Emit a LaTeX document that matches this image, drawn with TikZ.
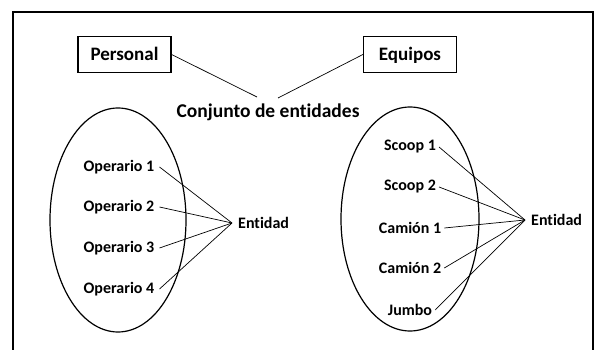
\documentclass[tikz,border=0pt]{standalone}
\usepackage{fontspec}
\setmainfont{Carlito}[Ligatures=NoCommon]
\usetikzlibrary{positioning}

\begin{document}
\begin{tikzpicture}[x=1pt,y=-1pt,
    caja/.style={draw,line width=1.2pt,minimum width=93pt,minimum height=36pt,text height=15pt,text depth=2pt,font=\bfseries\fontsize{19}{21}\selectfont},
    titulo/.style={font=\bfseries\fontsize{19.5}{21}\selectfont,inner sep=1pt},
    etiq/.style={font=\bfseries\fontsize{16}{18}\selectfont,inner sep=1pt},
    linea/.style={line width=0.7pt}]
    \useasboundingbox (0,0) rectangle (595,350);
    % Definitions
    \coordinate (HL) at (232,223);
    \coordinate (HR) at (525,220);
    \coordinate (CL) at (257,97);
    \coordinate (CR) at (278,98);
    % Frame
    \draw[line width=1.6pt] (13,352) -- (13,12) -- (593,12) -- (593,352);
    % Ellipses
    \draw[line width=1.2pt] (118,220) ellipse (68 and 112);
    \draw[line width=1.2pt] (410,219) ellipse (69 and 112);
    % Nodes
    \node(Pers) at (124.5,54.5) [caja] {Personal};
    \node(Equi) at (410,54.5) [caja] {Equipos};
    \node(Conj) at (268,112) [titulo] {Conjunto de entidades};
    \node(Op1)  at (119,167) [etiq] {Operario 1};
    \node(Op2)  at (119,207) [etiq] {Operario 2};
    \node(Op3)  at (119,248) [etiq] {Operario 3};
    \node(Op4)  at (119,289) [etiq] {Operario 4};
    \node(EntL) [etiq,right=5pt of HL] {Entidad};
    \node(Sc1)  at (410,147) [etiq] {Scoop 1};
    \node(Sc2)  at (410,187) [etiq] {Scoop 2};
    \node(Ca1)  at (410,228) [etiq] {Camión 1};
    \node(Ca2)  at (410,268) [etiq] {Camión 2};
    \node(Jum)  at (410,310) [etiq] {Jumbo};
    \node(EntR) [etiq,right=5pt of HR] {Entidad};
    % Lines
    \draw[linea] (Pers.east) -- (CL);
    \draw[linea] (Equi.west) -- (CR);
    \foreach \n in {Op1,Op2,Op3,Op4}
        \draw[linea] ([xshift=4pt]\n.east) -- (HL);
    \foreach \n in {Sc1,Sc2,Ca1,Ca2,Jum}
        \draw[linea] ([xshift=2pt]\n.east) -- (HR);
\end{tikzpicture}
\end{document}
